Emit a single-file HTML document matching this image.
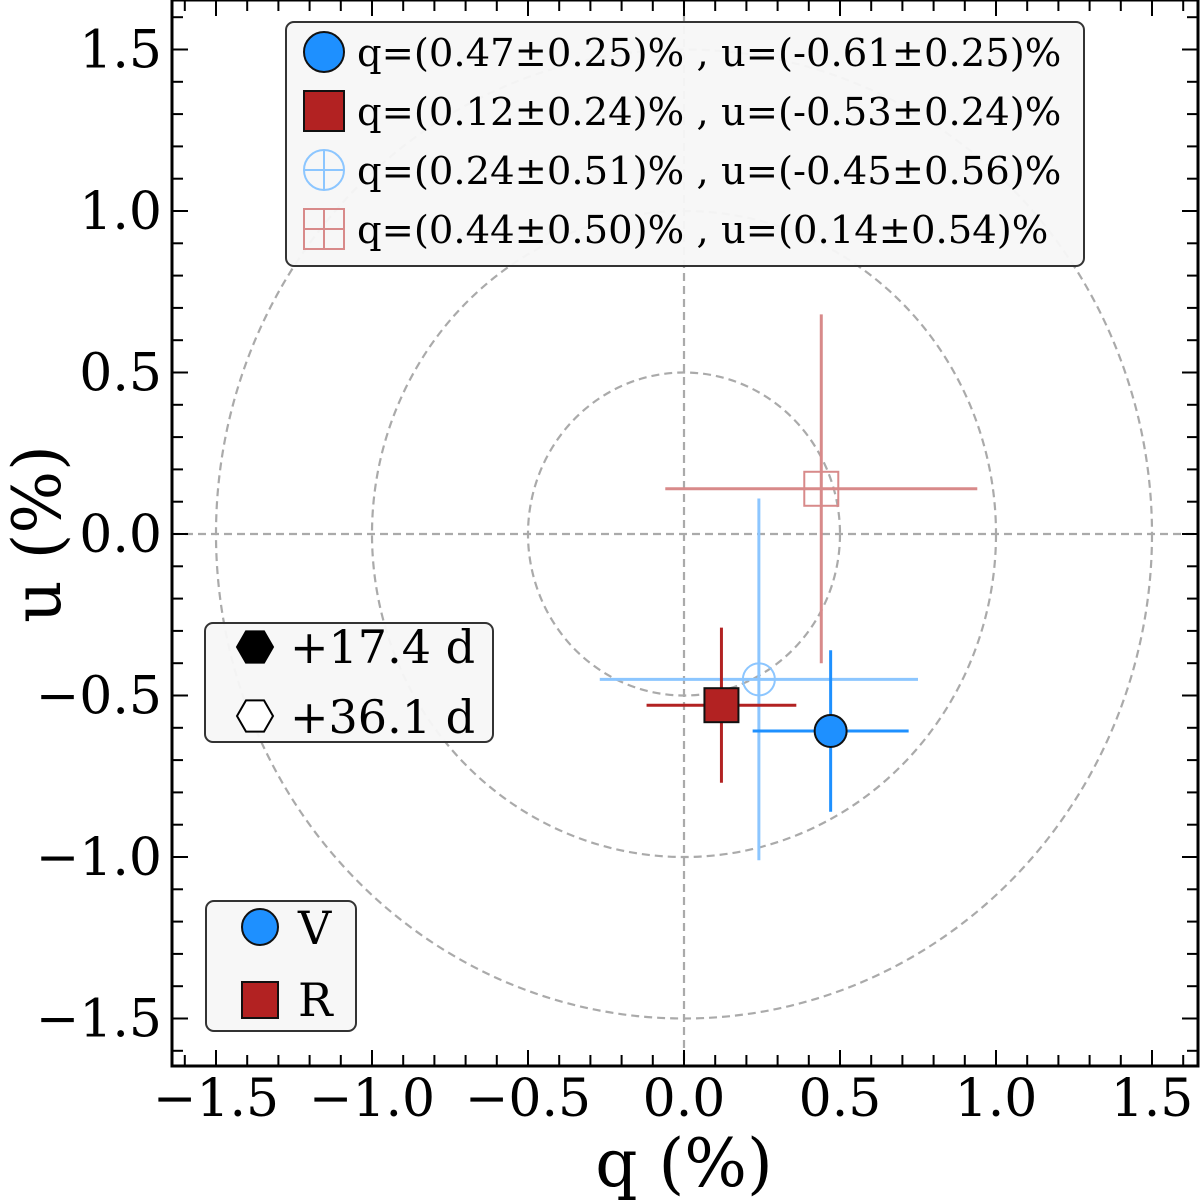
<!DOCTYPE html>
<html><head><meta charset="utf-8"><style>
body{margin:0;background:#fff}
svg{display:block;font-family:"DejaVu Serif","Liberation Serif",serif}
</style></head><body>
<svg id="c" width="1200" height="1202" viewBox="0 0 1200 1202" xmlns="http://www.w3.org/2000/svg">
<g id="grid"></g><g id="marks"></g><g id="axes"></g><g id="legends"></g>
</svg>
<script>
const qVals=[0.47,0.12,0.24,0.44];
const uVals=[-0.61,-0.53,-0.45,0.14];
const qErr=[0.25,0.24,0.51,0.50];
const uErr=[0.25,0.24,0.56,0.54];
const bands=["V","R","V","R"];
const epochs=["+17.4 d","+17.4 d","+36.1 d","+36.1 d"];
const ticks=[-1.5,-1.0,-0.5,0.0,0.5,1.0,1.5];
const radii=[0.5,1.0,1.5];
const NS="http://www.w3.org/2000/svg";
const L=172,R=1198,T=0,B=1066;
const X=v=>684+v*312, Y=v=>534-v*323;
function el(tag,at,parent){const e=document.createElementNS(NS,tag);for(const k in at)e.setAttribute(k,at[k]);parent.appendChild(e);return e;}
const grid=document.getElementById('grid'),marks=document.getElementById('marks'),axes=document.getElementById('axes'),leg=document.getElementById('legends');
const gs={stroke:'#aaaaaa','stroke-width':2.2,'stroke-dasharray':'8,5',fill:'none'};
radii.forEach(r=>{const e=el('ellipse',Object.assign({cx:X(0),cy:Y(0),rx:r*312,ry:r*323},gs),grid);

});
let e=el('line',Object.assign({x1:X(0),x2:X(0),y1:T,y2:B},gs),grid);

e=el('line',Object.assign({x1:L,x2:R,y1:Y(0),y2:Y(0)},gs),grid);

const col={V:'#1e90ff',R:'#b22222'},light={V:'#8cc6ff',R:'#d88a8a'};
[2,3,0,1].forEach(i=>{
 const open=epochs[i]==="+36.1 d";const c=open?light[bands[i]]:col[bands[i]];
 const g=el('g',{},marks);
 
 
 const x=X(qVals[i]),y=Y(uVals[i]);
 el('line',{x1:X(qVals[i]-qErr[i]),x2:X(qVals[i]+qErr[i]),y1:y,y2:y,stroke:c,'stroke-width':3},g);
 el('line',{x1:x,x2:x,y1:Y(uVals[i]-uErr[i]),y2:Y(uVals[i]+uErr[i]),stroke:c,'stroke-width':3},g);
 if(bands[i]==='V')el('circle',{cx:x,cy:y,r:16,fill:open?'none':c,stroke:open?c:'#111','stroke-width':2},g);
 else el('rect',{x:x-17,y:y-17,width:34,height:34,fill:open?'none':c,stroke:open?c:'#111','stroke-width':2},g);
});
el('rect',{x:L,y:T,width:R-L,height:B-T,fill:'none',stroke:'#000','stroke-width':3},axes);
for(let k=-16;k<=16;k++){const v=k/10,maj=k%5===0,len=maj?16:11;
 const x=X(v),y=Y(v);
 if(x>L&&x<R){el('line',{x1:x,x2:x,y1:B,y2:B-len,stroke:'#000','stroke-width':2},axes);el('line',{x1:x,x2:x,y1:T,y2:T+len,stroke:'#000','stroke-width':2},axes);}
 if(y>T&&y<B){el('line',{x1:L,x2:L+len,y1:y,y2:y,stroke:'#000','stroke-width':2},axes);el('line',{x1:R,x2:R-len,y1:y,y2:y,stroke:'#000','stroke-width':2},axes);}
}
const fmt=v=>(v<0?'\u2212':'')+Math.abs(v).toFixed(1);
ticks.forEach(v=>{
 let t=el('text',{x:X(v),y:1116,'text-anchor':'middle','font-size':52},axes);t.textContent=fmt(v);
 
 t=el('text',{x:162,y:Y(v)+18,'text-anchor':'end','font-size':52},axes);t.textContent=fmt(v);
 
});
let t=el('text',{x:684,y:1186,'text-anchor':'middle','font-size':66},axes);t.textContent='q (%)';

t=el('text',{x:0,y:0,transform:'translate(60,534) rotate(-90)','text-anchor':'middle','font-size':66},axes);t.textContent='u (%)';

function box(x,y,w,h,name){const r=el('rect',{x:x,y:y,width:w,height:h,rx:8,fill:'#f7f7f7','fill-opacity':0.95,stroke:'#333','stroke-width':2},leg);}
box(286,22,798,244,'values-legend');
const labels=[0,1,2,3].map(i=>`q=(${qVals[i].toFixed(2)}\u00b1${qErr[i].toFixed(2)})% , u=(${uVals[i].toFixed(2)}\u00b1${uErr[i].toFixed(2)})%`);
[0,1,2,3].forEach((i,k)=>{const y=52+k*59,open=k>=2,b=bands[i],c=open?light[b]:col[b];
 if(b==='V'){el('circle',{cx:324,cy:y,r:20,fill:open?'none':c,stroke:open?c:'#111','stroke-width':2},leg);
  if(open){el('line',{x1:304,x2:344,y1:y,y2:y,stroke:c,'stroke-width':2},leg);el('line',{x1:324,x2:324,y1:y-20,y2:y+20,stroke:c,'stroke-width':2},leg);}}
 else{el('rect',{x:304,y:y-20,width:40,height:40,fill:open?'none':c,stroke:open?c:'#111','stroke-width':2},leg);
  if(open){el('line',{x1:304,x2:344,y1:y,y2:y,stroke:c,'stroke-width':2},leg);el('line',{x1:324,x2:324,y1:y-20,y2:y+20,stroke:c,'stroke-width':2},leg);}}
 const tt=el('text',{x:357,y:y+14,'font-size':38.5},leg);tt.textContent=labels[i];
 
});
box(205,623,288,119,'epoch-legend');
function hex(cx,cy,r,fill){const p=[];for(let a=0;a<6;a++){const ang=a*Math.PI/3;p.push((cx+r*Math.cos(ang))+','+(cy+r*Math.sin(ang)));}el('polygon',{points:p.join(' '),fill:fill,stroke:'#000','stroke-width':2},leg);}
hex(255,647,18,'#000');hex(255,716,18,'#fff');
t=el('text',{x:290,y:663,'font-size':46},leg);t.textContent='+17.4 d';
t=el('text',{x:290,y:733,'font-size':46},leg);t.textContent='+36.1 d';
box(206,901,150,130,'band-legend');
el('circle',{cx:260,cy:927,r:18,fill:col.V,stroke:'#111','stroke-width':2},leg);
el('rect',{x:242,y:982,width:36,height:36,fill:col.R,stroke:'#111','stroke-width':2},leg);
t=el('text',{x:298,y:944,'font-size':46},leg);t.textContent='V';
t=el('text',{x:298,y:1016,'font-size':46},leg);t.textContent='R';
</script>
</body></html>
